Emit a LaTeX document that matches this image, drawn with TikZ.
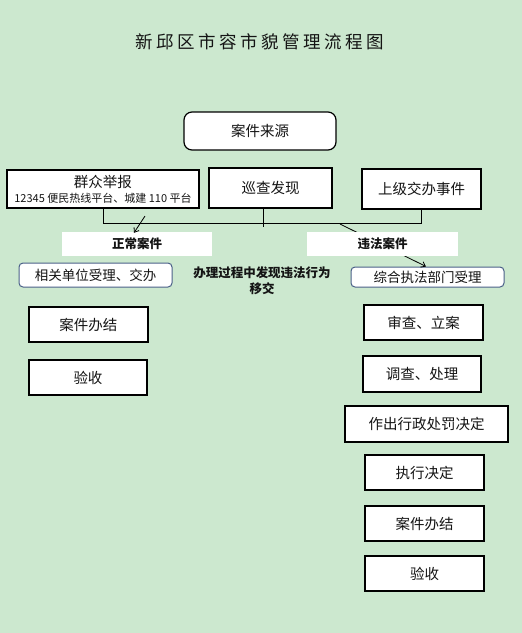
\documentclass[tikz,border=0pt]{standalone}
\usepackage{fontspec}
\newfontfamily\cjk{Noto Sans CJK SC}
\usetikzlibrary{arrows.meta}
\definecolor{bg}{RGB}{204,232,207}
\definecolor{bluebd}{RGB}{74,96,136}
\definecolor{txt}{RGB}{20,20,20}
\newcommand{\tsp}{\hspace{3.5pt}}
\begin{document}
\begin{tikzpicture}[x=1pt,y=-1pt,
  every node/.style={inner sep=0pt,text=txt,font=\cjk\fontsize{14.5}{16}\selectfont},
  sqbox/.style={draw=black,line width=1.2pt,fill=white},
  rbox/.style={draw=bluebd,line width=1pt,fill=white,rounded corners=4pt,font=\cjk\fontsize{13.5}{15}\selectfont},
  wbox/.style={fill=white,font=\cjk\bfseries\fontsize{12.5}{14}\selectfont},
  conn/.style={draw=black,line width=0.8pt},
  arr/.style={conn,-{Straight Barb[length=4pt,width=6pt]}}]
\fill[bg] (0,0) rectangle (522,633);
\useasboundingbox (0,0) rectangle (522,633);
\node (title) at (260,42) {\fontsize{17.5}{19}\selectfont 新\tsp 邱\tsp 区\tsp 市\tsp 容\tsp 市\tsp 貌\tsp 管\tsp 理\tsp 流\tsp 程\tsp 图};
\node[sqbox,rounded corners=8pt,minimum width=152pt,minimum height=38pt] (src) at (260,131) {案件来源};
\node[sqbox,minimum width=192pt,minimum height=38pt,align=center] (qz) at (103,189) {群众举报\\[-1pt]{\fontsize{11}{12}\selectfont 12345 便民热线平台、城建 110 平台}};
\node[sqbox,minimum width=123pt,minimum height=40pt] (xc) at (270.5,188) {巡查发现};
\node[sqbox,minimum width=119pt,minimum height=40pt] (sj) at (421.5,189) {上级交办事件};
\node[rbox,minimum width=153pt,minimum height=24pt] (xg) at (95.5,275) {相关单位受理、交办};
\node[rbox,minimum width=153pt,minimum height=20pt] (zh) at (427.5,277) {综合执法部门受理};
\node[align=center,font=\cjk\bfseries\fontsize{12.5}{16}\selectfont] (mid) at (262,281) {办理过程中发现违法行为\\移交};
\node[sqbox,minimum width=119pt,minimum height=35pt] (l1) at (88.5,324.5) {案件办结};
\node[sqbox,minimum width=118pt,minimum height=35pt] (l2) at (88,377.5) {验收};
\node[sqbox,minimum width=119pt,minimum height=35pt] (r1) at (423.5,322.5) {审查、立案};
\node[sqbox,minimum width=118pt,minimum height=36pt] (r2) at (422,374) {调查、处理};
\node[sqbox,minimum width=163pt,minimum height=36pt] (r3) at (426.5,424) {作出行政处罚决定};
\node[sqbox,minimum width=119pt,minimum height=35pt] (r4) at (424.5,472.5) {执行决定};
\node[sqbox,minimum width=119pt,minimum height=35pt] (r5) at (424.5,523.5) {案件办结};
\node[sqbox,minimum width=119pt,minimum height=35pt] (r6) at (424.5,573.5) {验收};
% bracket
\draw[conn] (qz.south) -- ++(0,15) -| (sj.south);
\draw[conn] ([xshift=-7.5pt]xc.south) -- ++(0,18);
% arrows
\coordinate (a1s) at (145,216);
\coordinate (a2s) at (340,224);
\draw[arr] (a2s) -- ([xshift=-1.5pt]zh.north);
\node[wbox,minimum width=150pt,minimum height=24pt] (zc) at (137,244) {正常案件};
\node[wbox,minimum width=151pt,minimum height=24pt] (wf) at (382.5,244) {违法案件};
\draw[arr] (a1s) -- ([xshift=-3pt,yshift=-1pt]zc.north);
\end{tikzpicture}
\end{document}
